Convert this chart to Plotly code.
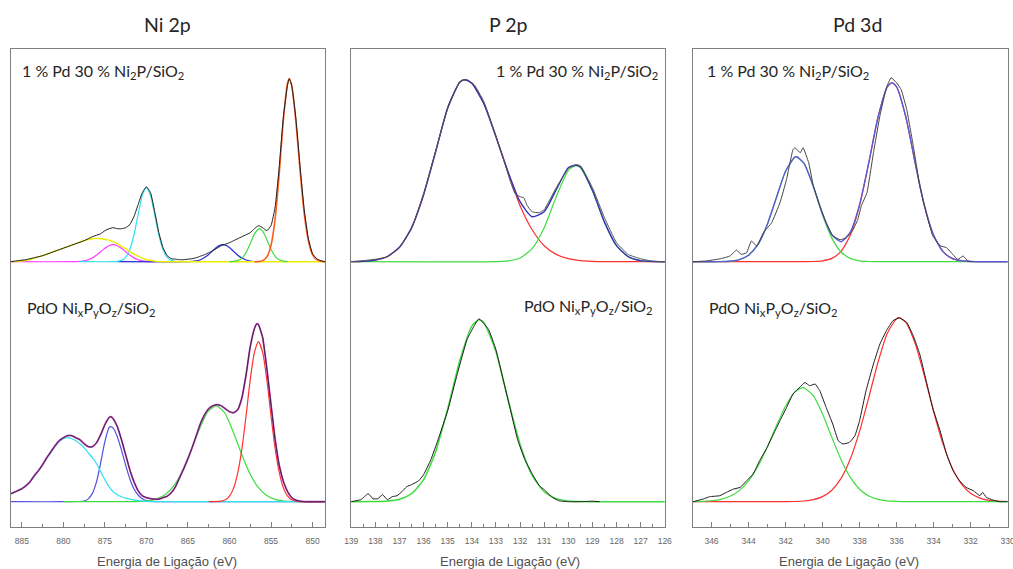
import plotly.graph_objects as go

# ---------------- data (energy eV, intensity in arbitrary units) ----------------
# Ni 2p, upper spectrum: 1 % Pd 30 % Ni2P/SiO2
ni_top_data = [(886.3,0),(885.5,1),(884.5,2),(883.5,4),(882.5,6),(881.5,9),(880.5,12),(879.5,15),(878.5,18),
    (877.5,21),(876.5,25),(875.5,28),(875.0,31),(874.5,33),(874.0,34),(873.5,33),(873.0,33),(872.5,34),(872.0,37),
    (871.5,45),(871.0,57),(870.5,69),(870.0,75),(869.5,69),(869.0,50),(868.5,29),(868.0,14),(867.5,6),(867.0,3),
    (866.5,2.5),(866.0,2),(865.5,2),(865.0,2.5),(864.5,3),(864.0,4),(863.5,5.5),(863.0,7),(862.5,9),(862.0,11),
    (861.5,13.5),(861.0,16),(860.5,17.5),(860.0,19),(859.5,21),(859.0,23),(858.5,25),(858.0,27),(857.5,29),(857.0,33),
    (856.5,36),(856.0,34),(855.5,31),(855.0,36),(854.5,55),(854.0,96),(853.5,146),(853.0,177),(852.8,183),(852.5,176),
    (852.0,143),(851.5,95),(851.0,52),(850.5,23),(850.0,8),(849.5,3),(849.0,1),(848.5,0)]
ni_top_red = [(857.0,0),(856.5,0.2),(856.0,1.1),(855.5,4.8),(855.0,16.3),(854.5,43),(854.0,89),(853.5,143),(853.0,179),
    (852.8,183),(852.5,176),(852.0,140),(851.5,91),(851.0,48),(850.5,21),(850.0,7),(849.5,2),(849.0,0.5),(848.5,0)]
ni_top_green = [(860.0,0),(859.5,0.3),(859.0,1.1),(858.5,3.6),(858.0,9.2),(857.5,18),(857.0,27.6),(856.5,32.8),(856.4,33),
    (856.0,30.5),(855.5,22),(855.0,12.4),(854.5,5.4),(854.0,1.9),(853.5,0.5),(853.0,0)]
ni_top_blue = [(873.5,0),(865.0,0),(864.5,0.3),(864.0,0.8),(863.5,2),(863.0,4.1),(862.5,7.2),(862.0,11.1),(861.5,14.7),
    (861.0,16.8),(860.8,17),(860.5,16.6),(860.0,14.1),(859.5,10.3),(859.0,6.5),(858.5,3.6),(858.0,1.7),(857.5,0.7),
    (857.0,0.2),(856.5,0)]
ni_top_cyan = [(878.0,0),(874.0,0),(873.5,0.3),(873.0,1.3),(872.5,4.4),(872.0,12.1),(871.5,26.7),(871.0,47),(870.5,66),
    (870.0,74),(869.5,66),(869.0,47),(868.5,26.7),(868.0,12.1),(867.5,4.4),(867.0,1.3),(866.5,0.3),(866.0,0)]
ni_top_magenta = [(886.3,0),(878.5,0.1),(878.0,0.4),(877.5,0.9),(877.0,2),(876.5,3.8),(876.0,6.6),(875.5,10),(875.0,13.4),
    (874.5,16),(874.0,17),(873.5,16),(873.0,13.4),(872.5,10),(872.0,6.6),(871.5,3.8),(871.0,2),(870.5,0.9),(870.0,0.4),
    (869.5,0.1),(869.0,0)]
ni_top_yellow = [(886.3,0),(885.5,0.3),(884.5,1.5),(883.5,3.5),(882.5,6),(881.5,9),(880.5,12),(879.5,15),(878.5,18),
    (877.5,21),(876.5,23),(876.0,23.3),(875.5,23),(875.0,22.5),(874.5,21.5),(874.0,20),(873.5,18),(873.0,15.5),
    (872.5,13),(872.0,10),(871.5,7.5),(871.0,5.5),(870.5,3.5),(870.0,2),(869.5,1.2),(869.0,0.6),(868.5,0.2),
    (868.0,0),(848.5,0)]

# Ni 2p, lower spectrum: PdO NixPyOz/SiO2
ni_bot_data = [(886.3,8),(885.5,11),(885.0,13),(884.5,16),(884.0,20),(883.5,26),(883.0,31),(882.5,37),(882.0,44),
    (881.5,50),(881.0,56),(880.5,61),(880.0,64),(879.5,66),(879.0,66),(878.5,64),(878.0,62),(877.5,58),(877.0,55),
    (876.5,55),(876.0,59),(875.5,67),(875.0,77),(874.5,84),(874.3,85),(874.0,83),(873.5,75),(873.0,62),(872.5,47),
    (872.0,32),(871.5,20),(871.0,11),(870.5,6),(870.0,4),(869.5,3),(869.0,2.5),(868.5,2.5),(868.0,4),(867.5,5.5),
    (867.0,9),(866.5,15),(866.0,24),(865.5,33),(865.0,43),(864.5,54),(864.0,66),(863.5,78),(863.0,87),(862.5,93),
    (862.0,96),(861.5,97),(861.0,96),(860.5,93),(860.0,90),(859.5,89),(859.0,92),(858.5,104),(858.0,127),(857.5,155),
    (857.0,173),(856.7,178),(856.5,177),(856.0,164),(855.5,133),(855.0,97),(854.5,62),(854.0,36),(853.5,20),
    (853.0,10),(852.5,4),(852.0,1.5),(851.5,0.5),(851.0,0),(848.5,0)]
ni_bot_cyan = [(886.3,8),(885.5,11),(885.0,13),(884.5,16),(884.0,20),(883.5,25),(883.0,31),(882.5,37),(882.0,43),
    (881.5,49),(881.0,55),(880.5,60),(880.0,63),(879.5,64),(879.0,63),(878.5,61),(878.0,58),(877.5,54),(877.0,49),
    (876.5,44),(876.0,38),(875.5,30),(875.0,22),(874.5,15),(874.0,10),(873.5,7),(873.0,5),(872.5,3.5),(872.0,2.5),
    (871.5,1.6),(871.0,1),(870.5,0.6),(870.0,0.3),(869.0,0),(848.5,0)]
ni_bot_blue = [(886.3,0),(880.0,0),(877.5,0.7),(877.0,2.8),(876.5,8.3),(876.0,20),(875.5,39),(875.0,60),(874.5,74),
    (874.3,75),(874.0,73.5),(873.5,65),(873.0,51.5),(872.5,36.5),(872.0,23),(871.5,13),(871.0,6.7),(870.5,3),
    (870.0,1.2),(869.5,0.5),(869.0,0.15),(868.5,0),(848.5,0)]
ni_bot_green = [(880.0,0),(870.6,0.4),(869.6,1.2),(868.6,3.3),(867.6,8),(866.6,17),(865.6,32),(864.6,52),(863.6,73),
    (862.6,90),(861.6,96),(860.6,89),(859.6,71),(858.6,49),(857.6,29),(856.6,15),(855.6,6.7),(854.6,2.6),
    (853.6,0.85),(852.6,0.25),(851.6,0)]
ni_bot_red = [(862.5,0),(861.0,0.6),(860.5,2),(860.0,5.6),(859.5,13.6),(859.0,29),(858.5,53),(858.0,86),(857.5,122),
    (857.0,149),(856.5,160),(856.0,149),(855.5,122),(855.0,86),(854.5,53),(854.0,29),(853.5,13.6),(853.0,5.6),
    (852.5,2),(852.0,0.6),(851.5,0),(848.5,0)]

# P 2p, upper spectrum
p_top_data = [(139.0,0),(138.5,1),(138.0,2.5),(137.5,5),(137.0,14),(136.5,33),(136.0,68),(135.5,111),(135.0,153),
    (134.5,180),(134.2,182),(133.9,177),(133.5,160),(133.0,126),(132.6,96),(132.4,80),(132.2,68),(132.0,65),
    (131.85,64),(131.7,56),(131.5,50),(131.2,49),(131.0,52),(130.5,74),(130.0,93),(129.7,97),(129.5,96),(129.0,74),
    (128.5,44),(128.0,19),(127.5,7),(127.0,3),(126.5,0.5),(126.0,0)]
p_top_fit = [(139.0,0.1),(138.5,0.4),(138.0,1.6),(137.5,5.2),(137.0,14.5),(136.5,34),(136.0,67),(135.5,110),(135.0,154),
    (134.5,179.5),(134.3,182),(134.0,178.4),(133.5,158),(133.0,125),(132.5,90),(132.0,60),(131.5,45),(131.0,50),
    (130.5,72),(130.0,94),(129.7,96.5),(129.5,95),(129.0,71.4),(128.5,39.6),(128.0,16),(127.5,4.8),(127.0,1.1),
    (126.5,0.2),(126.0,0)]
p_top_red = [(139.0,0.1),(138.5,0.4),(138.0,1.6),(137.5,5.2),(137.0,14.5),(136.5,34),(136.0,67),(135.5,110),(135.0,154),
    (134.5,179.5),(134.3,182),(134.0,178.4),(133.5,158),(133.0,125),(132.5,89),(132.0,56),(131.5,32),(131.0,16),
    (130.5,7.3),(130.0,3),(129.5,1.1),(129.0,0.4),(128.5,0.1),(126.0,0)]
p_top_green = [(139.0,0),(133.0,0.1),(132.5,0.8),(132.0,3.7),(131.5,13),(131.0,34),(130.5,65),(130.0,91),(129.7,96),
    (129.5,94),(129.0,71),(128.5,39.5),(128.0,16),(127.5,4.8),(127.0,1.1),(126.5,0.2),(126.0,0)]

# P 2p, lower spectrum
p_bot_data = [(139.0,0),(138.8,1),(138.6,2),(138.3,8),(138.1,3),(137.9,3),(137.7,7),(137.5,2),(137.3,5),(137.1,6),
    (136.9,10),(136.7,15),(136.5,17),(136.2,21),(136.0,27),(135.7,42),(135.4,62),(135.0,91),(134.6,128),(134.2,162),
    (133.9,176),(133.7,183),(133.5,178),(133.3,172),(133.0,152),(132.7,122),(132.4,92),(132.1,62),(131.8,42),
    (131.5,28),(131.2,16),(131.0,12),(130.7,5),(130.4,1),(130.0,0),(129.5,0),(129.0,0.5),(128.7,0)]
p_bot_green = [(139.0,0),(138.0,0.1),(137.5,0.6),(137.0,2.4),(136.5,8),(136.0,22),(135.5,50),(135.0,93),(134.5,141),
    (134.0,175.6),(133.7,182),(133.5,179),(133.0,150),(132.5,102.5),(132.0,57.5),(131.5,26.4),(131.0,10),
    (130.5,3.1),(130.0,0.8),(129.5,0.2),(129.0,0),(126.0,0)]

# Pd 3d, upper spectrum
pd_top_data = [(347.0,0),(346.3,0.7),(345.5,3),(345.0,5.7),(344.65,11.7),(344.4,7.3),(344.1,9),(343.85,20.7),
    (343.55,15.7),(343.2,29),(342.75,39),(342.3,59),(341.95,82),(341.6,112),(341.5,114),(341.2,109),(341.05,114),
    (340.75,99),(340.5,76),(340.15,56),(339.8,39),(339.45,26),(339.05,22),(338.7,24),(338.35,32),(338.1,42),
    (337.9,56),(337.6,69),(337.25,109),(336.9,146),(336.55,174),(336.3,184),(336.0,179),(335.75,172),(335.45,152),
    (335.1,116),(334.75,76),(334.4,49),(334.05,26),(333.65,16),(333.3,14),(332.95,7),(332.7,2.3),(332.4,5.7),
    (332.15,0.7),(331.9,0)]
pd_top_fit = [(347.0,0),(346.0,0),(345.5,0.1),(345.0,0.5),(344.5,2),(344.0,6.4),(343.5,17),(343.0,36.5),(342.5,63.7),
    (342.0,90.5),(341.5,104.6),(341.4,105),(341.0,98.3),(340.5,75.4),(340.0,47.6),(339.5,26.9),(339.0,20),
    (338.5,29.7),(338.0,57.1),(337.5,99.3),(337.0,144.7),(336.5,174.9),(336.25,179),(336.0,174.9),(335.5,144.7),
    (335.0,99.1),(334.5,56.2),(334.0,26.4),(333.5,10.3),(333.0,3.3),(332.5,0.9),(332.0,0.2),(331.5,0),(330.0,0)]
pd_top_green = [(347.0,0),(345.5,0.1),(345.0,0.5),(344.5,2),(344.0,6.4),(343.5,17),(343.0,36.5),(342.5,63.7),
    (342.0,90.5),(341.5,104.6),(341.4,105),(341.0,98.3),(340.5,75.2),(340.0,46.7),(339.5,23.6),(339.0,9.7),
    (338.5,3.3),(338.0,0.9),(337.5,0.2),(337.0,0),(330.0,0)]
pd_top_red = [(347.0,0),(341.0,0),(340.5,0.2),(340.0,0.9),(339.5,3.3),(339.0,10.3),(338.5,26.4),(338.0,56.2),
    (337.5,99.1),(337.0,144.7),(336.5,174.9),(336.25,179),(336.0,174.9),(335.5,144.7),(335.0,99.1),(334.5,56.2),
    (334.0,26.4),(333.5,10.3),(333.0,3.3),(332.5,0.9),(332.0,0.2),(331.5,0),(330.0,0)]

# Pd 3d, lower spectrum
pd_bot_data = [(347.0,0),(346.45,2.7),(346.1,5),(345.55,6),(345.2,9.3),(344.8,12.7),(344.45,14.3),(344.1,21),
    (343.75,27.7),(343.4,41),(343.0,54),(342.65,67.7),(342.3,81),(341.95,94),(341.6,107.7),(341.2,115),(340.95,119.3),
    (340.7,116),(340.4,117.7),(340.15,111),(339.8,94),(339.45,77.7),(339.15,61),(338.9,57.7),(338.55,59.3),
    (338.25,66),(338.0,81),(337.65,111),(337.25,137.7),(336.9,157.7),(336.55,171),(336.2,181),(335.85,183.7),
    (335.45,179.3),(335.1,166),(334.75,147.7),(334.4,121),(334.05,94),(333.65,71),(333.3,47.7),(332.95,31),
    (332.6,21),(332.25,14.3),(331.85,11),(331.5,6),(331.35,9.3),(331.15,4.3),(330.8,1.7),(330.45,0),(330.0,0)]
pd_bot_green = [(347.0,0.1),(346.5,0.3),(346.0,0.95),(345.5,2.4),(345.0,5.4),(344.5,11.1),(344.0,20.8),(343.5,35.3),
    (343.0,54.2),(342.5,75.6),(342.0,95.5),(341.5,109.6),(341.05,114),(340.5,106.1),(340.0,87.7),(339.5,64.4),
    (339.0,42),(338.5,24.3),(338.0,12.5),(337.5,5.7),(337.0,2.3),(336.5,0.8),(336.0,0.3),(335.5,0.1),(335.0,0),
    (330.0,0)]
pd_bot_red = [(347.0,0),(342.0,0),(341.5,0.2),(341.0,0.7),(340.5,2.0),(340.0,5.1),(339.5,11.5),(339.0,23.3),
    (338.5,42.7),(338.0,70.3),(337.5,104.4),(337.0,139.7),(336.5,168.5),(336.0,183.1),(335.85,184),(335.5,179.4),
    (335.0,158.3),(334.5,125.9),(334.0,90.2),(333.5,58.3),(333.0,33.9),(332.5,17.8),(332.0,8.4),(331.5,3.6),
    (331.0,1.4),(330.5,0.5),(330.0,0.2)]

panel_titles = ["Ni 2p", "P 2p", "Pd 3d"]
sample_top = "1 % Pd 30 % Ni<sub>2</sub>P/SiO<sub>2</sub>"
sample_bot = "PdO Ni<sub>x</sub>P<sub>y</sub>O<sub>z</sub>/SiO<sub>2</sub>"
x_title = "Energia de Ligação (eV)"

# ---------------- styling ----------------
W, H = 1013, 569
TOP_OFF, BOT_OFF = 265, 25          # vertical stacking offsets of the two spectra
Y_MAX = 477.4
BLACK = "#1e1e1e"
RED, ORANGE, GREEN = "#ff3030", "#ff5a1e", "#3fdc3f"
BLUE, CYAN, MAGENTA, YELLOW = "#2a2ad2", "#30e0f0", "#ff3cff", "#eeee00"
PURPLE = "#c23ec2"

fig = go.Figure()

def add(series, ax, off, color, width=1.2, smooth=0.6):
    fig.add_trace(go.Scatter(
        x=[p[0] for p in series], y=[p[1] + off for p in series], mode="lines",
        line=dict(color=color, width=width, shape="spline", smoothing=smooth),
        xaxis="x" + ("" if ax == 1 else str(ax)), yaxis="y" + ("" if ax == 1 else str(ax)),
        showlegend=False, hoverinfo="skip"))

# Ni 2p
add(ni_top_magenta, 1, TOP_OFF, MAGENTA)
add(ni_top_blue, 1, TOP_OFF, BLUE)
add(ni_top_cyan, 1, TOP_OFF, CYAN)
add(ni_top_yellow, 1, TOP_OFF, YELLOW, 1.4)
add(ni_top_green, 1, TOP_OFF, GREEN)
add(ni_top_red, 1, TOP_OFF, ORANGE, 1.6)
add(ni_top_data, 1, TOP_OFF, BLACK, 1.0, 0.4)
add(ni_bot_blue, 1, BOT_OFF, "#5050e0")
add(ni_bot_green, 1, BOT_OFF, GREEN)
add(ni_bot_cyan, 1, BOT_OFF, CYAN)
add(ni_bot_red, 1, BOT_OFF, RED)
add(ni_bot_data, 1, BOT_OFF, PURPLE, 1.8, 0.4)
add(ni_bot_data, 1, BOT_OFF, BLACK, 0.8, 0.4)
# P 2p
add(p_top_red, 2, TOP_OFF, RED)
add(p_top_green, 2, TOP_OFF, GREEN)
add(p_top_fit, 2, TOP_OFF, "#3333b8", 1.4)
add(p_top_data, 2, TOP_OFF, "#555555", 1.0, 0.4)
add(p_bot_green, 2, BOT_OFF, GREEN, 1.5)
add(p_bot_data, 2, BOT_OFF, BLACK, 1.0, 0.4)
# Pd 3d
add(pd_top_red, 3, TOP_OFF, RED)
add(pd_top_green, 3, TOP_OFF, GREEN)
add(pd_top_fit, 3, TOP_OFF, "#5a5ad8", 1.4)
add(pd_top_data, 3, TOP_OFF, "#444444", 1.0, 0.3)
add(pd_bot_red, 3, BOT_OFF, RED)
add(pd_bot_green, 3, BOT_OFF, GREEN)
add(pd_bot_data, 3, BOT_OFF, BLACK, 1.0, 0.3)

domains = [(11, 325), (351, 665), (693, 1008)]
ranges = [(886.3, 848.5), (139.01, 125.99), (347, 329.98)]
dticks = [(5, 2.5, 850), (1, 0.5, 126), (2, 1, 330)]
LINE = "#808080"
y_dom = [1 - 526.7 / H, 1 - 49.3 / H]

layout = dict(width=W, height=H, margin=dict(l=0, r=0, t=0, b=0, autoexpand=False),
              paper_bgcolor="white", plot_bgcolor="white", showlegend=False)
for i in range(3):
    sx = "xaxis" if i == 0 else f"xaxis{i+1}"
    sy = "yaxis" if i == 0 else f"yaxis{i+1}"
    d, m, t0 = dticks[i]
    layout[sx] = dict(domain=[domains[i][0] / W, domains[i][1] / W], range=list(ranges[i]),
                      anchor="y" if i == 0 else f"y{i+1}", automargin=False,
                      showline=True, linecolor=LINE, linewidth=1, mirror=True,
                      ticks="inside", ticklen=5, tickcolor=LINE, tickwidth=1,
                      tick0=t0, dtick=d, ticklabelstandoff=6, ticklabeloverflow="allow",
                      tickfont=dict(family="Liberation Sans", size=8.5, color="#666666"),
                      minor=dict(ticks="inside", ticklen=3, tickcolor=LINE, dtick=m, tick0=t0, showgrid=False),
                      showgrid=False, zeroline=False)
    layout[sy] = dict(domain=y_dom, range=[0, Y_MAX], anchor="x" if i == 0 else f"x{i+1}", automargin=False,
                      showline=True, linecolor=LINE, linewidth=1, mirror=True,
                      showticklabels=False, ticks="", showgrid=False, zeroline=False)
fig.update_layout(**layout)

def ann(text, x, y, size, xanchor="center", family="Lato", color="#262626"):
    fig.add_annotation(text=text, x=x / W, y=1 - y / H, xref="paper", yref="paper",
                       xanchor=xanchor, yanchor="middle", showarrow=False,
                       font=dict(family=family, size=size, color=color))

centers = [167, 508, 857]
for i in range(3):
    ann(panel_titles[i], centers[i], 24, 19.5)
    ann(x_title, [167, 510, 849][i], 561, 13, family="Liberation Sans", color="#505050")

ann(sample_top, 20, 72, 16, "left")
ann(sample_bot, 25, 308, 16, "left")
ann(sample_top, 660, 72, 16, "right")
ann(sample_bot, 655, 306, 16, "right")
ann(sample_top, 705, 71, 16, "left")
ann(sample_bot, 707, 308, 16, "left")

fig.write_html("out.html", config={"displayModeBar": False},
               post_script="document.body.style.margin='0';")
